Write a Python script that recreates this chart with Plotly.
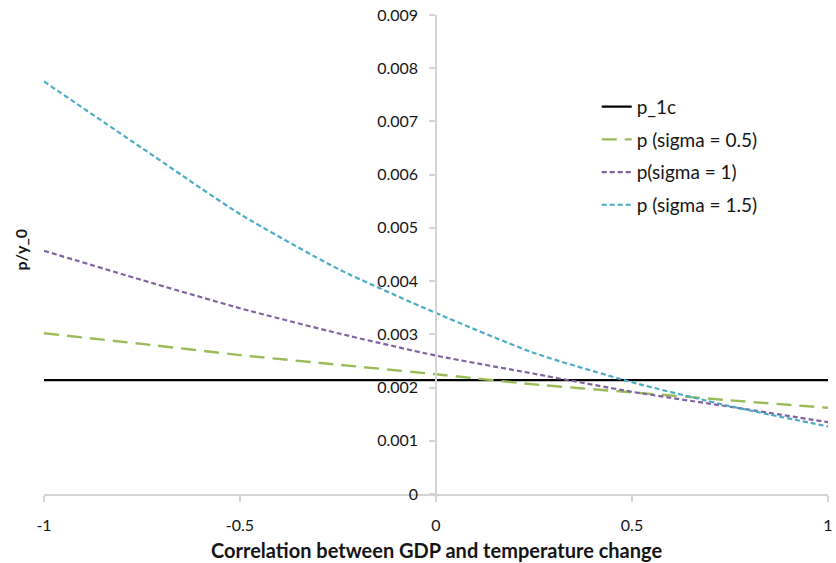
import plotly.graph_objects as go

# Correlation between GDP and temperature change
rho = [-1.0, -0.75, -0.5, -0.25, 0.0, 0.25, 0.5, 0.75, 1.0]

# p / y_0 for each case
p_1c = [0.00214] * len(rho)
p_sigma_05 = [0.00302, 0.00282, 0.00261, 0.00243, 0.00225, 0.00206, 0.00191, 0.00176, 0.00162]
p_sigma_1 = [0.00457, 0.00402, 0.00349, 0.00302, 0.00260, 0.00226, 0.00192, 0.00164, 0.00135]
p_sigma_15 = [0.00775, 0.00650, 0.00526, 0.00423, 0.00340, 0.00265, 0.00210, 0.00165, 0.00127]

x_ticks = [-1, -0.5, 0, 0.5, 1]
x_tick_labels = ["-1", "-0.5", "0", "0.5", "1"]
y_ticks = [0, 0.001, 0.002, 0.003, 0.004, 0.005, 0.006, 0.007, 0.008, 0.009]
y_tick_labels = ["0", "0.001", "0.002", "0.003", "0.004", "0.005", "0.006", "0.007", "0.008", "0.009"]

FONT = "Lato"
TEXT = "#151515"

fig = go.Figure()

series = [
    ("p_1c", p_1c, "#000000", "solid", 2.2, False),
    ("p (sigma = 0.5)", p_sigma_05, "#9BBB59", "15px,8px", 2.4, True),
    ("p(sigma = 1)", p_sigma_1, "#8064A2", "5px,3px", 2.2, True),
    ("p (sigma = 1.5)", p_sigma_15, "#4BACC6", "5px,3px", 2.2, True),
]

for i, (name, vals, color, dash, width, smooth) in enumerate(series):
    fig.add_trace(go.Scatter(
        x=rho, y=vals, mode="lines", name=name,
        legendgroup=f"g{i}",
        line=dict(color=color, dash=dash, width=width,
                  shape="spline" if smooth else "linear", smoothing=0.6),
    ))

axis_color = "#d4d4d4"

fig.update_layout(
    width=836, height=563,
    margin=dict(l=44, r=3, t=15, b=69),
    paper_bgcolor="white", plot_bgcolor="white",
    font=dict(family=FONT, size=16, color=TEXT),
    showlegend=True,
    legend=dict(
        x=0.705, y=0.848, xanchor="left", yanchor="top",
        font=dict(family=FONT, size=19, color=TEXT),
        bgcolor="rgba(0,0,0,0)", borderwidth=0,
        tracegroupgap=5,
    ),
    xaxis=dict(
        range=[-1, 1], tickvals=x_ticks, ticktext=x_tick_labels,
        showline=True, linecolor=axis_color, linewidth=1.5,
        ticks="outside", ticklen=6, tickcolor=axis_color, tickwidth=1.5,
        showgrid=False, zeroline=False,
        ticklabelstandoff=10, ticklabeloverflow="allow",
        tickfont=dict(family=FONT, size=16, color=TEXT),
    ),
    yaxis=dict(
        range=[0, 0.009], tickvals=y_ticks, ticktext=y_tick_labels,
        anchor="free", position=0.5,
        showline=True, linecolor=axis_color, linewidth=1.5,
        ticks="outside", ticklen=6, tickcolor=axis_color, tickwidth=1.5,
        showgrid=False, zeroline=False,
        ticklabelstandoff=8,
        tickfont=dict(family=FONT, size=16, color=TEXT),
    ),
    annotations=[
        dict(text="<b>Correlation between GDP and temperature change</b>",
             xref="paper", yref="paper", x=0.5, y=-0.117,
             xanchor="center", yanchor="middle", showarrow=False,
             font=dict(family=FONT, size=20, color=TEXT)),
        dict(text="<b>p/y_0</b>",
             xref="paper", yref="paper", x=-0.0304, y=0.511,
             xanchor="center", yanchor="middle", showarrow=False, textangle=-90,
             font=dict(family=FONT, size=16, color=TEXT)),
    ],
)

fig.write_html("out.html")
